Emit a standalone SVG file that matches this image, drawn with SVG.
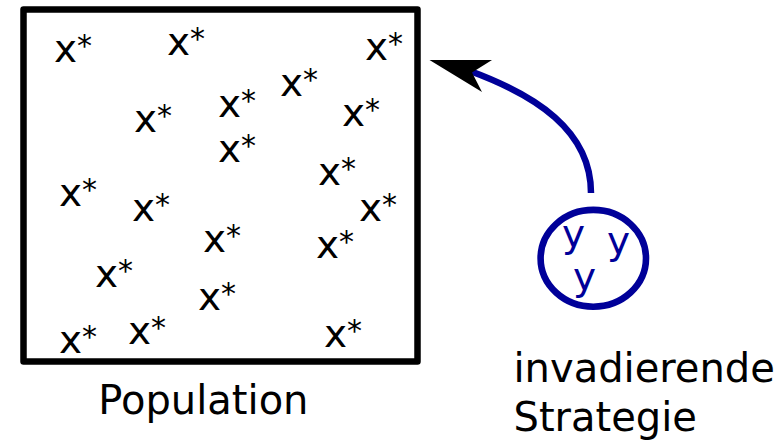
<svg xmlns="http://www.w3.org/2000/svg" width="780" height="440" viewBox="0 0 780 440">
<style>
text{font-family:"DejaVu Sans","Noto Sans",sans-serif;}
.xs{font-size:39px;fill:#000;}
.xs tspan{font-size:30px;}
.ys{font-size:39px;fill:#000099;}
.lbl{font-size:40px;fill:#000;}
</style>
<rect width="780" height="440" fill="#fff"/>
<g id="population">
<rect x="23.5" y="9.5" width="394" height="352" fill="none" stroke="#000" stroke-width="6.5" stroke-linejoin="round"/>
<text class="xs" x="54" y="62">x<tspan dy="-6">*</tspan></text>
<text class="xs" x="167" y="55">x<tspan dy="-6">*</tspan></text>
<text class="xs" x="365" y="60">x<tspan dy="-6">*</tspan></text>
<text class="xs" x="280" y="96">x<tspan dy="-6">*</tspan></text>
<text class="xs" x="218" y="117">x<tspan dy="-6">*</tspan></text>
<text class="xs" x="342" y="126">x<tspan dy="-6">*</tspan></text>
<text class="xs" x="134" y="132">x<tspan dy="-6">*</tspan></text>
<text class="xs" x="218" y="162">x<tspan dy="-6">*</tspan></text>
<text class="xs" x="318" y="185">x<tspan dy="-6">*</tspan></text>
<text class="xs" x="59" y="206">x<tspan dy="-6">*</tspan></text>
<text class="xs" x="359" y="221">x<tspan dy="-6">*</tspan></text>
<text class="xs" x="132" y="221">x<tspan dy="-6">*</tspan></text>
<text class="xs" x="203" y="252">x<tspan dy="-6">*</tspan></text>
<text class="xs" x="316" y="258">x<tspan dy="-6">*</tspan></text>
<text class="xs" x="95" y="287">x<tspan dy="-6">*</tspan></text>
<text class="xs" x="198" y="310">x<tspan dy="-6">*</tspan></text>
<text class="xs" x="128" y="344">x<tspan dy="-6">*</tspan></text>
<text class="xs" x="59" y="353">x<tspan dy="-6">*</tspan></text>
<text class="xs" x="324" y="347">x<tspan dy="-6">*</tspan></text>
</g>
<g id="population-label">
<text class="lbl" x="98.3" y="414">Population</text>
</g>
<g id="invader">
<ellipse cx="593.3" cy="258.3" rx="52.7" ry="48.4" fill="none" stroke="#000099" stroke-width="6.6"/>
<text class="ys" x="562" y="247">y</text>
<text class="ys" x="607" y="253.5">y</text>
<text class="ys" x="573" y="290">y</text>
</g>
<g id="invader-label">
<text class="lbl" x="513.5" y="382">invadierende</text>
<text class="lbl" x="513.5" y="431">Strategie</text>
</g>
<g id="connectors">
<path d="M591,193 C591,130 535,95 470,71" fill="none" stroke="#000099" stroke-width="6.5"/>
<polygon points="429.5,60 492,60 472,72.5 482,92" fill="#000"/>
</g>
</svg>
